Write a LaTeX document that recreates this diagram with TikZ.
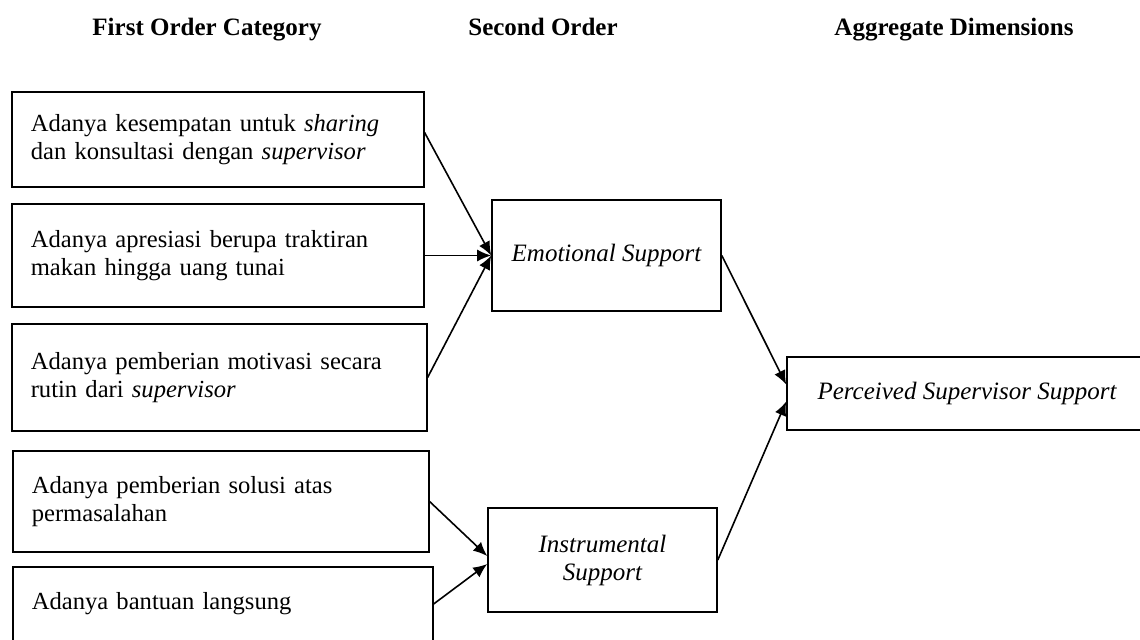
\documentclass[tikz,border=0pt]{standalone}
\usepackage{fontspec}
\setmainfont{Liberation Serif}
\usetikzlibrary{arrows.meta}
\begin{document}
\fontsize{12.5}{14}\selectfont
\begin{tikzpicture}[x=0.5pt,y=-0.5pt,
    every node/.style={font=\fontsize{12.5}{14}\selectfont},
    head/.style={font=\fontsize{12.5}{14}\selectfont\bfseries,anchor=base},
    catbox/.style={draw,thick,anchor=west,align=left,text width=187pt,inner xsep=9.5pt,font=\fontsize{12.3}{14}\selectfont},
    ordbox/.style={draw,thick,align=center,font=\fontsize{12.5}{14}\selectfont\itshape,minimum width=114.5pt},
    link/.style={thick,-{Latex[length=7pt,width=6pt]}}]
                \clip (0,0) rectangle (1140,639);
                \node[head] (h1) at (207,35) {First Order Category};
                \node[head] (h2) at (543,35) {Second Order};
                \node[head] (h3) at (954,35) {Aggregate Dimensions};
                \node[catbox,minimum height=47.5pt] (c1) at (11,139.5) {Adanya kesempatan untuk \textit{sharing}\\dan konsultasi dengan \textit{supervisor}};
                \node[catbox,minimum height=51.5pt] (c2) at (11,255.5) {Adanya apresiasi berupa traktiran\\makan hingga uang tunai};
                \node[catbox,minimum height=53.5pt,text width=188.5pt] (c3) at (11,377.5) {Adanya pemberian motivasi secara\\rutin dari \textit{supervisor}};
                \node[catbox,minimum height=50.5pt,text width=189pt] (c4) at (12,501.5) {Adanya pemberian solusi atas\\permasalahan};
                \node[catbox,minimum height=37pt,text width=191pt] (c5) at (12,604) {Adanya bantuan langsung};
                \node[ordbox,minimum height=55.5pt] (emo) at (606.5,255.5) {Emotional Support};
                \node[ordbox,minimum height=52pt] (ins) at (602.5,560) {Instrumental\\Support};
                \node[ordbox,minimum height=36.5pt,minimum width=180pt] (pss) at (967,393.5) {Perceived Supervisor Support};
                \draw[link] ([yshift=3.5pt]c1.east) -- (emo.west);
                \draw[link] (c2.east) -- (emo.west);
                \draw[link] (c3.east) -- (emo.west);
                \draw[link] (c4.east) -- ([yshift=2pt]ins.west);
                \draw[link] (c5.east) -- ([yshift=-2pt]ins.west);
                \draw[link] (emo.east) -- ([yshift=4.5pt]pss.west);
                \draw[link] (ins.east) -- ([yshift=-4pt]pss.west);
            \end{tikzpicture}
\end{document}
